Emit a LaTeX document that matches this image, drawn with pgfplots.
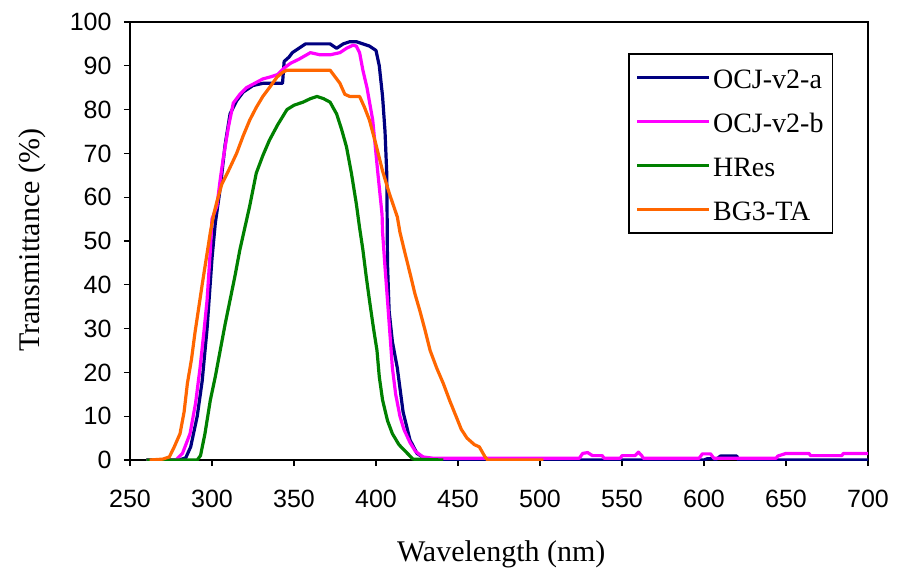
\documentclass[border=0pt]{standalone}
\usepackage{fontspec}
\setmainfont{Liberation Serif}
\newfontfamily\ticksans{Liberation Sans}
\usepackage{pgfplots}
\pgfplotsset{compat=1.18}
\definecolor{cblue}{RGB}{0,0,128}
\definecolor{cmag}{RGB}{255,0,255}
\definecolor{cgreen}{RGB}{0,128,0}
\definecolor{corange}{RGB}{255,102,0}
\begin{document}
\begin{tikzpicture}
\begin{axis}[
  scale only axis, width=738pt, height=438pt,
  xmin=250, xmax=700, ymin=0, ymax=100,
  xtick={250,300,...,700}, ytick={0,10,...,100},
  tick pos=left, tick align=outside, major tick length=6pt,
  tick style={black, line width=1.3pt},
  axis line style={black, line width=1.6pt},
  /pgf/number format/assume math mode=true,
  tick label style={font=\ticksans\fontsize{25}{28}\selectfont},
  xticklabel style={yshift=-21pt},
  yticklabel style={xshift=-9pt},
  xlabel={Wavelength (nm)}, ylabel={Transmittance (\%)},
  label style={font=\fontsize{30}{34}\selectfont, inner sep=0pt},
  xlabel style={at={(axis description cs:0.503,-0.215)}, anchor=center},
  ylabel style={at={(axis description cs:-0.1328,0.502)}, anchor=center},
  legend style={at={(0.953,0.929)}, anchor=north east, draw=black, line width=1.6pt,
    font=\fontsize{28}{32}\selectfont, row sep=11pt, inner xsep=7pt, inner ysep=7pt,
    nodes={inner sep=2pt, text height=25.5pt, text depth=3.5pt}},
  legend cell align=left,
  legend image code/.code={\draw[#1] (0pt,0pt) -- (72pt,0pt);},
  every axis plot/.append style={line width=3.2pt, line join=round},
]
\addplot[cblue] coordinates {
(260,0)(280,0)(284,0.5)(287,3)(291,10)(294,18)(297,30)(300,46)(302,54)(305,62)(308,72)(311,79)(315,82)(319,84)(325,85.5)(331,86)(337,86)(343,86)(344,91)(347,92)(349,93)(353,94)(357,95)(365,95)(372,95)(376,94)(380,95)(384,95.5)(388,95.5)(392,95)(396,94.5)(400,93.5)(402,90)(404,83)(405.5,75)(406.6,65)(407,45)(408,34)(410,27)(413,21)(416.5,11)(420.7,4.6)(425,1.5)(430,0.3)(440,0)(500,0)(600,0)(602,0.3)(606,0.3)(607,0)(610,0.9)(620,0.9)(621,0)(700,0)};
\addlegendentry{OCJ-v2-a}
\addplot[cmag] coordinates {
(260,0)(278,0)(282,1.5)(286.6,6)(290,13)(292.7,21)(295,29)(297,36.5)(299,48)(300,55)(303,58)(305,64)(306.7,68.5)(310,76)(313,81.5)(317,83.5)(321,85)(326,86)(331,87)(336,87.5)(340,88)(344,89.5)(348,90.6)(353,91.5)(360,93)(366,92.5)(372,92.5)(378,93)(382,94)(386,94.7)(388,94.5)(390,93)(392,89)(394.5,85)(398,77.6)(401,66)(403.7,56)(404,52)(405.5,44)(407,36.5)(410,21)(412,15)(414.6,10)(417,7)(420.7,4)(424,2)(428.6,0.7)(435,0.4)(524,0.4)(526,1.5)(529,1.7)(532,1)(538,1)(539,0.4)(549,0.4)(550,1)(558,1)(560,1.8)(562,1)(563,0.4)(597,0.4)(599,1.4)(604,1.4)(606,0.4)(644,0.4)(645,0.9)(650,1.5)(664,1.5)(665,1)(684,1)(685,1.5)(700,1.5)};
\addlegendentry{OCJ-v2-b}
\addplot[cgreen] coordinates {
(260,0)(291,0)(293,1)(295.7,6)(299,13.7)(302,19)(305,25)(308,31)(311,36.5)(314,42)(317,48)(320,53)(323,58)(327,65.5)(331,69.5)(335,73)(340,76.5)(345.7,80)(350,81)(355.5,81.7)(360,82.5)(364,83)(368,82.5)(372,81.7)(376,79)(379,75.5)(382,71.5)(385,65.5)(388,58.5)(390,53)(392,48)(394,42)(396,36.5)(398.5,30)(400.6,25)(402,19)(404,13.7)(407,9)(410,6)(414,3.5)(418.9,1.6)(422.6,0.2)(441,0)};
\addlegendentry{HRes}
\addplot[corange] coordinates {
(262,0)(270,0.2)(274,0.7)(277,3)(280.5,6)(283,11)(285,17.5)(287.5,23)(289.6,29)(292,35)(294,40)(296.5,46)(299,52)(301,56)(303,59)(306,63)(310,66)(315,70)(319,74)(323,77.6)(327,80.5)(331,83)(335,85)(339.6,87.4)(343,88.5)(345.7,89)(350,89)(360,89)(368,89)(372,89)(375,87.5)(378,86)(381,83.5)(384,83)(388,83)(390,83)(393,80.5)(396,77.6)(400,72)(404,66)(408,61)(413,55.5)(414.6,52)(417.5,47.5)(420.7,42.7)(423.7,38)(426.8,34)(430,29.5)(433,25)(437,21)(441,17.5)(445,13.5)(449,9.8)(452,7)(455.5,5)(460,3.5)(463,3)(466.5,0.7)(468,0)(502,0)};
\addlegendentry{BG3-TA}
\end{axis}
\path ([xshift=-130pt,yshift=-109pt]current axis.south west) rectangle ([xshift=30pt,yshift=22pt]current axis.north east);
\end{tikzpicture}
\end{document}
